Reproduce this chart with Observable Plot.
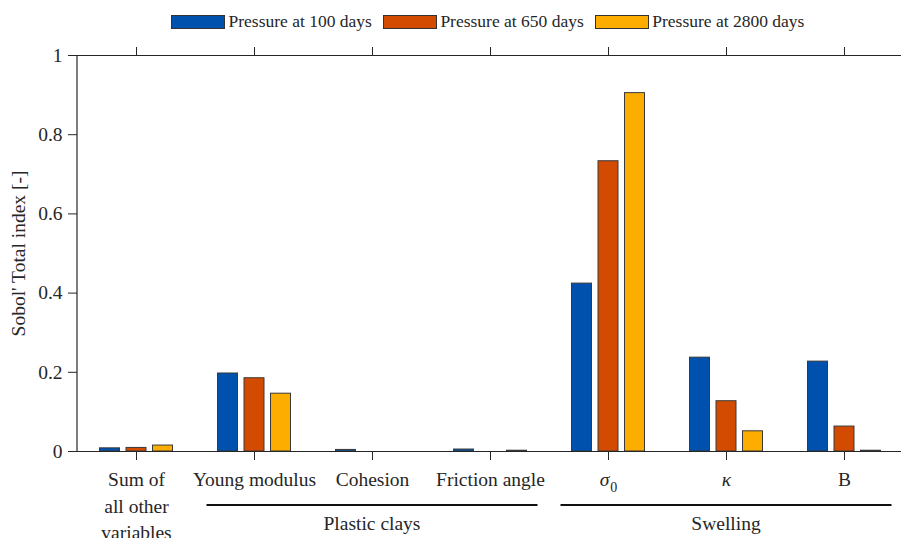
<!DOCTYPE html>
<html><head><meta charset="utf-8">
<script src="https://cdn.jsdelivr.net/npm/d3@7"></script>
<script src="https://cdn.jsdelivr.net/npm/@observablehq/plot@0.6"></script>
<style>
body{margin:0;background:#fff;}
#wrap{position:relative;width:901px;height:538px;overflow:hidden;}
#legend{position:absolute;left:171px;top:11px;display:flex;align-items:center;gap:11px;color:#262626;white-space:nowrap;}
#legend .item{display:flex;align-items:center;gap:3.5px;}
#legend .box{width:54px;height:14px;box-sizing:border-box;border:1px solid #333;}
#chart{position:absolute;left:0;top:0;}
</style></head><body>
<div id="wrap"><div id="chart"></div><div id="legend"></div></div>
<script>
const categories = ["Sum of all other variables","Young modulus","Cohesion","Friction angle","σ0","κ","B"];
const tickLabels = ["Sum of\nall other\nvariables","Young modulus","Cohesion","Friction angle","σ0","κ","B"];
const seriesNames = ["Pressure at 100 days","Pressure at 650 days","Pressure at 2800 days"];
const p100  = [0.008, 0.197, 0.004, 0.005, 0.424, 0.237, 0.227];
const p650  = [0.009, 0.185, 0.000, 0.000, 0.733, 0.127, 0.063];
const p2800 = [0.015, 0.146, 0.000, 0.002, 0.905, 0.051, 0.002];
const colors = ["#0050AD", "#D24B00", "#FDAC00"];
const yTicks = [0, 0.2, 0.4, 0.6, 0.8, 1];
const yTickLabels = ["0", "0.2", "0.4", "0.6", "0.8", "1"];
const groups = [
  {name: "Plastic clays", from: "Young modulus", to: "Friction angle"},
  {name: "Swelling", from: "σ0", to: "B"}
];

const seriesValues = [p100, p650, p2800];
const data = categories.flatMap((c, i) => seriesNames.map((s, k) => ({category: c, series: s, k, value: seriesValues[k][i]})));
const offsets = [-26.5, 0, 26.5];
const axisColor = "#262626";
const serif = "'Liberation Serif', 'Times New Roman', serif";

function groupMark(index, scales, values, dims) {
  const x = scales.x;
  const bw = typeof x.bandwidth === "function" ? x.bandwidth() : (x.bandwidth || 0);
  const g = d3.create("svg:g");
  const yBottom = dims.height - dims.marginBottom;
  g.append("line")
    .attr("x1", dims.marginLeft).attr("x2", dims.marginLeft)
    .attr("y1", dims.marginTop).attr("y2", yBottom)
    .attr("stroke", axisColor).attr("stroke-width", 1.2);
  for (const grp of groups) {
    const x1 = x(grp.from) + bw / 2 - 47.5;
    const x2 = x(grp.to) + bw / 2 + 47.5;
    g.append("line")
      .attr("x1", x1).attr("x2", x2)
      .attr("y1", yBottom + 54).attr("y2", yBottom + 54)
      .attr("stroke", "#111").attr("stroke-width", 2.2);
    g.append("text")
      .attr("x", (x1 + x2) / 2).attr("y", yBottom + 79)
      .attr("text-anchor", "middle")
      .attr("font-size", 19.5)
      .attr("fill", axisColor)
      .text(grp.name);
  }
  return g.node();
}

const barMarks = seriesNames.map((s, k) =>
  Plot.barY(data.filter(d => d.k === k), {
    x: "category", y: "value",
    fill: colors[k], stroke: "#3a3a3a", strokeWidth: 1,
    dx: offsets[k]
  })
);

const chart = Plot.plot({
  width: 901,
  height: 538,
  marginLeft: 77,
  marginRight: 0,
  marginTop: 55,
  marginBottom: 87,
  style: {fontFamily: serif, color: axisColor, background: "#fff"},
  x: {type: "band", domain: categories, range: [75.5, 905], paddingInner: 1 - 20 / 118.5, paddingOuter: (1 - 20 / 118.5) / 2},
  y: {domain: [0, 1], label: "Sobol' Total index [-]"},
  marks: [
    ...barMarks,
    Plot.ruleY([0, 1], {stroke: axisColor, strokeWidth: 1.2}),
    Plot.axisX({anchor: "bottom", tickSize: 9, tickPadding: 6, fontSize: 19.5, lineHeight: 1.38,
      tickFormat: d => tickLabels[categories.indexOf(d)], label: null}),
    Plot.axisX({anchor: "top", tickSize: 9, tickFormat: () => "", label: null}),
    Plot.axisY({ticks: yTicks, tickSize: 9, tickPadding: 6, fontSize: 19.5,
      tickFormat: d => yTickLabels[yTicks.indexOf(d)],
      label: "Sobol' Total index [-]", labelAnchor: "center", labelArrow: "none", labelOffset: 66}),
    groupMark
  ]
});

d3.select(chart).selectAll("text, tspan").style("font-family", serif);
d3.select(chart).selectAll("text").each(function() {
  const t = this.textContent;
  if (t === "σ0") {
    const sel = d3.select(this);
    sel.text("");
    sel.append("tspan").attr("font-style", "italic").style("font-family", serif).text("σ");
    sel.append("tspan").attr("dy", "0.45em").attr("dx", "0.05em").attr("font-size", "14px").style("font-family", serif).text("0");
  } else if (t === "κ") {
    d3.select(this).attr("font-style", "italic");
  }
});

document.getElementById("chart").appendChild(chart);

const legend = d3.select("#legend");
seriesNames.forEach((s, k) => {
  const it = legend.append("div").attr("class", "item");
  it.append("div").attr("class", "box").style("background", colors[k]);
  it.append("span").style("font-family", serif).style("font-size", "17.5px").text(s);
});
</script>
</body></html>
